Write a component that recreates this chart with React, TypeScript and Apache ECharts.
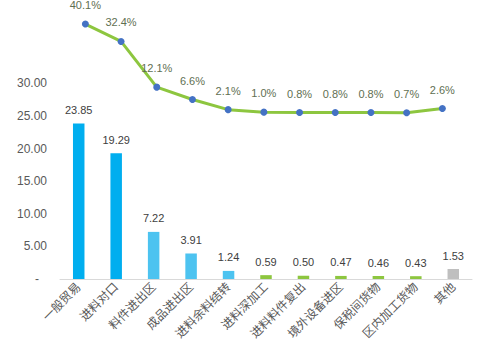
import React, { useEffect, useRef } from "react";
import * as echarts from "echarts";

const categories = ["一般贸易", "进料对口", "料件进出区", "成品进出区", "进料余料结转", "进料深加工", "进料料件复出", "境外设备进区", "保税间货物", "区内加工货物", "其他"];
const barValues = [23.85, 19.29, 7.22, 3.91, 1.24, 0.59, 0.5, 0.47, 0.46, 0.43, 1.53];
const shareValues = [40.1, 32.4, 12.1, 6.6, 2.1, 1.0, 0.8, 0.8, 0.8, 0.7, 2.6];
const barColors = ["#00AEEF", "#00AEEF", "#4DC3F0", "#4DC3F0", "#4DC3F0", "#8DC63F", "#8DC63F", "#8DC63F", "#8DC63F", "#8DC63F", "#BFBFBF"];

const FONT = "Liberation Sans, Noto Sans CJK SC, sans-serif";

export default function App() {
  const ref = useRef<HTMLDivElement>(null);
  useEffect(() => {
    if (!ref.current) return;
    const chart = echarts.init(ref.current, undefined, { renderer: "svg" });
    chart.setOption({
      animation: false,
      backgroundColor: "#ffffff",
      grid: [
        { left: 60, right: 20, top: 18, bottom: 80 },
        { left: 67.5, width: 392.7, top: 18, bottom: 80 },
      ],
      xAxis: [
        {
          type: "category",
          gridIndex: 0,
          data: categories,
          axisLine: { lineStyle: { color: "#D9D9D9", width: 1 } },
          axisTick: { show: false },
          axisLabel: { rotate: 45, interval: 0, color: "#595959", fontSize: 12, fontFamily: FONT, margin: 6 },
        },
        {
          type: "category",
          gridIndex: 1,
          data: categories,
          show: false,
        },
      ],
      yAxis: [
        {
          type: "value",
          gridIndex: 0,
          min: 0,
          max: 40,
          interval: 5,
          splitLine: { show: false },
          axisLine: { show: false },
          axisTick: { show: false },
          axisLabel: {
            color: "#595959",
            fontSize: 12,
            fontFamily: FONT,
            margin: 13,
            formatter: (v: number) => (v > 30 ? "" : v === 0 ? "{d|-}" : v.toFixed(2)),
            rich: { d: { padding: [0, 8, 0, 0], color: "#595959", fontSize: 12, fontFamily: FONT } },
          },
        },
        {
          type: "value",
          gridIndex: 1,
          min: -73.1,
          max: 42.8,
          show: false,
          splitLine: { show: false },
        },
      ],
      series: [
        {
          type: "bar",
          xAxisIndex: 0,
          yAxisIndex: 0,
          barWidth: 11.5,
          data: barValues.map((v, i) => ({ value: v, itemStyle: { color: barColors[i] } })),
          label: {
            show: true,
            position: "top",
            distance: 8,
            color: "#404040",
            fontSize: 11,
            fontFamily: FONT,
            formatter: (p: any) => p.value.toFixed(2),
          },
        },
        {
          type: "line",
          xAxisIndex: 1,
          yAxisIndex: 1,
          data: shareValues,
          clip: false,
          lineStyle: { color: "#8DC63F", width: 3 },
          itemStyle: { color: "#4472C4" },
          symbol: "circle",
          symbolSize: 7,
          label: {
            show: true,
            position: "top",
            distance: 10,
            color: "#5f6f52",
            fontSize: 11,
            fontFamily: FONT,
            formatter: (p: any) => p.value.toFixed(1) + "%",
          },
          z: 5,
        },
      ],
    });
    return () => chart.dispose();
  }, []);
  return <div ref={ref} style={{ width: 492, height: 359, position: "absolute", left: 0, top: 0 }} />;
}
